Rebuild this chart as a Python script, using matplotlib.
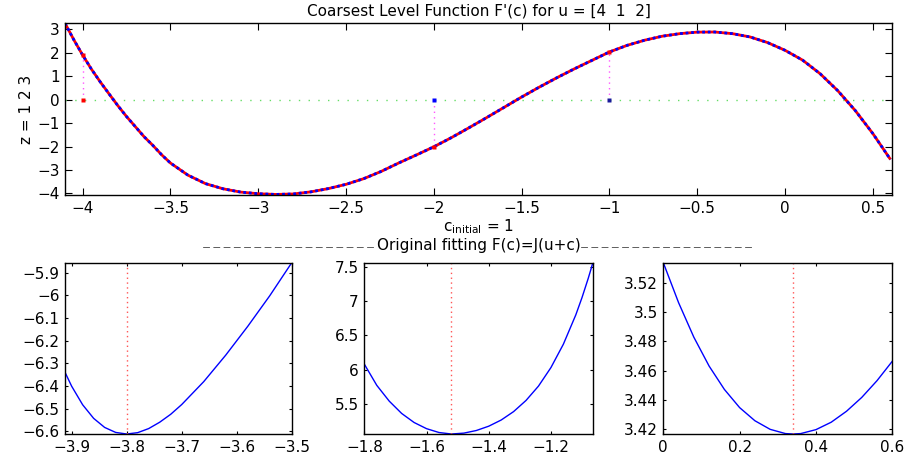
import matplotlib
matplotlib.use("Agg")
import matplotlib.pyplot as plt
from matplotlib.ticker import FuncFormatter

plt.rcParams['font.family'] = ['DejaVu Sans']
plt.rcParams['font.size'] = 11

# coarse level derivative F'(c)
c_top = [-4.10, -4.05, -4.00, -3.95, -3.90, -3.85, -3.80, -3.75, -3.70, -3.65,
         -3.60, -3.55, -3.50, -3.40, -3.30, -3.20, -3.10, -3.00, -2.90, -2.80,
         -2.70, -2.60, -2.50, -2.40, -2.30, -2.20, -2.10, -2.00, -1.90, -1.80,
         -1.70, -1.60, -1.50, -1.40, -1.30, -1.20, -1.10, -1.00, -0.90, -0.80,
         -0.70, -0.60, -0.50, -0.40, -0.30, -0.20, -0.10, 0.00, 0.10, 0.20,
         0.30, 0.40, 0.50, 0.60]
f_top = [3.25, 2.55, 1.90, 1.30, 0.76, 0.25, -0.25, -0.72, -1.15, -1.58,
         -1.95, -2.35, -2.70, -3.22, -3.58, -3.80, -3.94, -4.01, -4.04, -4.02,
         -3.93, -3.79, -3.61, -3.37, -3.06, -2.70, -2.36, -2.01, -1.62, -1.20,
         -0.77, -0.33, 0.11, 0.53, 0.93, 1.31, 1.67, 2.03, 2.31, 2.53,
         2.70, 2.81, 2.875, 2.88, 2.81, 2.67, 2.43, 2.10, 1.68, 1.10,
         0.38, -0.47, -1.45, -2.55]

# starting guesses and F' at those points
c_init = [-4.0, -2.0, -1.0]
f_init = [1.90, -2.01, 2.03]
init_colors = ['red', 'blue', '#1a1a9a']

# original fitting F(c)=J(u+c) around each root
c_left = [-3.912, -3.90, -3.88, -3.86, -3.84, -3.82, -3.80, -3.78, -3.76,
          -3.74, -3.72, -3.70, -3.66, -3.62, -3.58, -3.54, -3.50]
f_left = [-6.340, -6.401, -6.483, -6.543, -6.583, -6.605, -6.612, -6.606,
          -6.588, -6.560, -6.525, -6.482, -6.381, -6.264, -6.137, -6.002,
          -5.856]
c_mid = [-1.80, -1.76, -1.72, -1.68, -1.64, -1.60, -1.56, -1.52, -1.48, -1.44,
         -1.40, -1.36, -1.32, -1.28, -1.24, -1.20, -1.16, -1.12, -1.10, -1.08,
         -1.065]
f_mid = [6.079, 5.770, 5.540, 5.360, 5.228, 5.138, 5.082, 5.060, 5.073, 5.111,
         5.174, 5.264, 5.387, 5.550, 5.759, 6.029, 6.370, 6.798, 7.051, 7.331,
         7.560]
c_right = [0.00, 0.04, 0.08, 0.12, 0.16, 0.20, 0.24, 0.28, 0.32, 0.34, 0.36,
           0.40, 0.44, 0.48, 0.52, 0.56, 0.60]
f_right = [3.5340, 3.5066, 3.4829, 3.4631, 3.4471, 3.4346, 3.4256, 3.4197,
           3.4168, 3.4165, 3.4168, 3.4195, 3.4246, 3.4321, 3.4416, 3.4531,
           3.4664]
roots = [-3.80, -1.52, 0.34]


def matlab_fmt(v, pos):
    s = '%g' % round(v, 6)
    return s.replace('-', '\u2212')


def style_axes(ax, ticklen):
    ax.tick_params(direction='in', top=True, right=True, length=ticklen,
                   width=0.8, labelsize=11, pad=4)
    for sp in ax.spines.values():
        sp.set_linewidth(1.0)
    ax.xaxis.set_major_formatter(FuncFormatter(matlab_fmt))
    ax.yaxis.set_major_formatter(FuncFormatter(matlab_fmt))


fig = plt.figure(figsize=(9.07, 4.57), dpi=100)

ax = fig.add_axes([0.0717, 0.573, 0.912, 0.377])
ax.plot([c_top[0], c_top[-1]], [0, 0], color='#66dd66', lw=1.0,
        linestyle=(0, (1, 6)))
for x, y in zip(c_init, f_init):
    ax.plot([x, x], [0, y], color='#ff55ff', lw=1.0, linestyle=(0, (1, 3)))
ax.plot(c_top, f_top, color='red', lw=2.0, solid_capstyle='butt')
ax.plot(c_top, f_top, color='blue', lw=2.0, linestyle=(0, (1, 1)),
        dash_capstyle='butt')
ax.plot(c_init, f_init, 's', color='red', ms=2.5, mec='none')
for x, col in zip(c_init, init_colors):
    ax.plot(x, 0, 's', color=col, ms=3, mec='none')
ax.set_xlim(-4.1, 0.61)
ax.set_ylim(-4.07, 3.27)
ax.set_xticks([-4, -3.5, -3, -2.5, -2, -1.5, -1, -0.5, 0, 0.5])
ax.set_yticks([-4, -3, -2, -1, 0, 1, 2, 3])
style_axes(ax, 5)
ax.set_title("Coarsest Level Function F'(c) for u = [4  1  2]", fontsize=11,
             pad=5)
ax.set_xlabel(r'c$_{\mathrm{initial}}$ = 1', fontsize=11, labelpad=1)
ax.set_ylabel('z = 1 2 3', fontsize=11, labelpad=2)

panels = [
    ([0.0717, 0.0503, 0.250, 0.375], c_left, f_left, roots[0],
     [-3.9, -3.8, -3.7, -3.6, -3.5], [-6.6, -6.5, -6.4, -6.3, -6.2, -6.1, -6.0, -5.9],
     (-6.612, -5.856)),
    ([0.4017, 0.0503, 0.252, 0.375], c_mid, f_mid, roots[1],
     [-1.8, -1.6, -1.4, -1.2], [5.5, 6, 6.5, 7, 7.5], (5.06, 7.56)),
    ([0.7313, 0.0503, 0.2525, 0.375], c_right, f_right, roots[2],
     [0, 0.2, 0.4, 0.6], [3.42, 3.44, 3.46, 3.48, 3.5, 3.52], (3.4165, 3.534)),
]
for i, (rect, cx, fx, r, xt, yt, ylim) in enumerate(panels):
    a = fig.add_axes(rect)
    a.plot(cx, fx, color='blue', lw=1.0)
    a.plot([r, r], ylim, color='#ff5555', lw=1.0, linestyle=(0, (1, 2.5)))
    a.set_xlim(cx[0], cx[-1])
    a.set_ylim(*ylim)
    a.set_xticks(xt)
    a.set_yticks(yt)
    style_axes(a, 2)
    if i == 1:
        # title with dash runs on both sides
        mid = a.annotate('Original fitting F(c)=J(u+c)', xy=(0.5, 1.0),
                         xycoords='axes fraction', xytext=(0, 9),
                         textcoords='offset points', ha='center',
                         va='baseline', fontsize=11)
        dashes = '\u2212\u200a' * 17
        a.annotate(dashes, xy=(0, 0), xycoords=mid, ha='right', va='bottom',
                   fontsize=7.8, color='#555555')
        a.annotate(dashes, xy=(1, 0), xycoords=mid, ha='left', va='bottom',
                   fontsize=7.8, color='#555555')

fig.savefig('out.png', dpi=100)
